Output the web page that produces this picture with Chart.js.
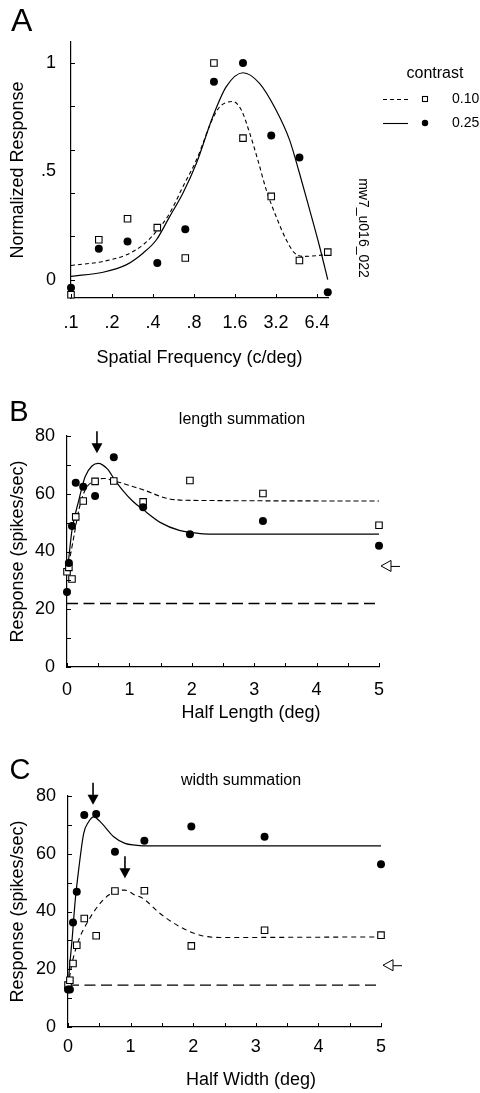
<!DOCTYPE html>
<html>
<head>
<meta charset="utf-8">
<script src="https://cdn.jsdelivr.net/npm/chart.js@4.4.0/dist/chart.umd.min.js"></script>
<style>
  html, body { margin: 0; padding: 0; background: #fff; }
  #wrap { position: relative; width: 480px; height: 1093px; }
  canvas { position: absolute; left: 0; }
</style>
</head>
<body>
<div id="wrap">
  <canvas id="chartA" width="480" height="375" style="top:0;width:480px;height:375px"></canvas>
  <canvas id="chartB" width="480" height="360" style="top:375px;width:480px;height:360px"></canvas>
  <canvas id="chartC" width="480" height="358" style="top:735px;width:480px;height:358px"></canvas>
</div>
<script>
// ---- Panel A: spatial frequency tuning ----
const contrastLevels = ['0.10', '0.25'];
const freqX = [0.1, 0.16, 0.26, 0.43, 0.69, 1.12, 1.83, 2.95, 4.75, 7.67];
const freqResp010 = [-0.07, 0.184, 0.281, 0.24, 0.10, 1.0, 0.653, 0.384, 0.088, 0.127];
const freqResp025 = [-0.038, 0.142, 0.176, 0.077, 0.232, 0.914, 1.0, 0.665, 0.564, -0.058];
const freqFit010X = [0.1, 0.172, 0.256, 0.339, 0.424, 0.531, 0.664, 0.834, 1.1, 1.24, 1.545, 1.78, 2.05, 2.35, 2.71, 3.2, 3.8, 4.37, 5.02, 7.67];
const freqFit010Y = [0.065, 0.084, 0.115, 0.161, 0.223, 0.307, 0.43, 0.553, 0.745, 0.799, 0.822, 0.783, 0.676, 0.553, 0.415, 0.292, 0.184, 0.123, 0.107, 0.115];
const freqFit025X = [0.1, 0.172, 0.256, 0.339, 0.424, 0.531, 0.664, 0.834, 1.1, 1.38, 1.83, 2.42, 3.2, 4.02, 4.75, 5.64, 6.67, 7.67];
const freqFit025Y = [0.015, 0.034, 0.069, 0.123, 0.184, 0.292, 0.4, 0.538, 0.753, 0.891, 0.955, 0.906, 0.783, 0.645, 0.492, 0.323, 0.154, 0.0];
const freqTicks = [0.1, 0.2, 0.4, 0.8, 1.6, 3.2, 6.4];
const freqTickLabels = ['.1', '.2', '.4', '.8', '1.6', '3.2', '6.4'];
const normTicks = [0, 0.5, 1];
const normTickLabels = ['0', '.5', '1'];
const normMarks = [0, 0.2, 0.4, 0.6, 0.8, 1];

// ---- Panel B: length summation ----
const halfX = [0, 0.03, 0.08, 0.14, 0.26, 0.45, 0.75, 1.22, 1.97, 3.14, 5];
const lenResp010 = [33, 34.5, 30.5, 52, 57.5, 64.3, 64.4, 57.2, 64.6, 60.1, 49.1];
const lenResp025 = [26, 36, 48.8, 63.8, 62.4, 59.2, 72.6, 55.3, 46, 50.6, 42];
const lenFit010X = [0, 0.03, 0.1, 0.19, 0.29, 0.43, 0.59, 0.77, 1.04, 1.23, 1.6, 2.0, 5];
const lenFit010Y = [33, 36, 44, 54.4, 61.3, 64.4, 65.3, 64.4, 62.6, 61.3, 58.4, 57.7, 57.5];
const lenFit025X = [0, 0.04, 0.08, 0.19, 0.29, 0.4, 0.5, 0.65, 0.76, 0.9, 1.05, 1.22, 1.5, 1.8, 2.1, 2.5, 5];
const lenFit025Y = [32, 40, 47.4, 57.8, 65.9, 69.6, 70.5, 68.5, 65, 61, 57.5, 54.5, 50, 47.3, 46.3, 46, 46];
const lenBaseline = 22;
const lenPeakArrows = [[0.48, 74]];
const lenOpenArrow = 35;

// ---- Panel C: width summation ----
const widResp010 = [14.5, 16.2, 22, 28.3, 37.6, 31.6, 47.1, 47.2, 28.1, 33.5, 31.8];
const widResp025 = [13, 13, 36.2, 46.8, 73.4, 73.8, 60.7, 64.5, 69.4, 65.9, 56.4];
const widFit010X = [0, 0.064, 0.17, 0.33, 0.49, 0.65, 0.78, 0.91, 1.07, 1.2, 1.47, 1.79, 2.11, 2.43, 5];
const widFit010Y = [13.9, 22, 30, 37, 42.2, 45.7, 47.2, 47.4, 45.7, 44.5, 39.3, 34.7, 31.8, 31, 31.2];
const widFit025X = [0, 0.03, 0.064, 0.116, 0.17, 0.25, 0.33, 0.41, 0.54, 0.73, 0.91, 1.07, 1.3, 5];
const widFit025Y = [13.9, 22, 30, 44, 54.4, 67, 71.1, 72.8, 70.5, 65.9, 63.6, 63, 62.7, 62.7];
const widBaseline = 14.5;
const widPeakArrows = [[0.4, 77], [0.91, 51.5]];
const widOpenArrow = 21.4;

const FONT = '"Liberation Sans", Arial, Helvetica, sans-serif';
Chart.defaults.font.family = FONT;
Chart.defaults.color = '#000';

const xy = (xs, ys) => xs.map((x, i) => ({ x, y: ys[i] }));

function pointSet(data, filled) {
  return {
    data, showLine: false, clip: false,
    pointStyle: filled ? 'circle' : 'rect',
    pointRadius: filled ? 4 : 4.6,
    pointBackgroundColor: filled ? '#000' : '#fff',
    pointBorderColor: '#000',
    pointBorderWidth: filled ? 0 : 1.1
  };
}
function lineSet(data, dash, width) {
  return {
    data, showLine: true, clip: false, pointRadius: 0,
    borderColor: '#000', borderWidth: width || 1.1, borderDash: dash,
    cubicInterpolationMode: 'monotone', fill: false
  };
}

// inward tick marks, labels, arrows and legend
const extras = {
  id: 'extras',
  afterDraw(chart, args, o) {
    const { ctx, chartArea } = chart;
    const xs = chart.scales.x, ys = chart.scales.y;
    ctx.save();
    ctx.strokeStyle = '#000';
    ctx.fillStyle = '#000';
    ctx.lineWidth = 1;
    ctx.beginPath();
    (o.xMarks || xs.ticks.map(t => t.value)).forEach(v => {
      const p = Math.round(xs.getPixelForValue(v)) + 0.5;
      ctx.moveTo(p, chartArea.bottom);
      ctx.lineTo(p, chartArea.bottom - 4);
    });
    (o.yMarks || ys.ticks.map(t => t.value)).forEach(v => {
      const p = Math.round(ys.getPixelForValue(v)) + 0.5;
      ctx.moveTo(chartArea.left, p);
      ctx.lineTo(chartArea.left + 4, p);
    });
    ctx.stroke();

    (o.texts || []).forEach(t => {
      ctx.save();
      ctx.font = t.size + 'px ' + FONT;
      ctx.textAlign = t.align || 'center';
      ctx.textBaseline = 'middle';
      ctx.translate(t.x, t.y);
      if (t.rot) ctx.rotate(t.rot);
      ctx.fillText(t.text, 0, 0);
      ctx.restore();
    });

    // filled arrows pointing down at the peaks
    (o.downArrows || []).forEach(([vx, vy]) => {
      const px = xs.getPixelForValue(vx), py = ys.getPixelForValue(vy);
      ctx.lineWidth = 1.6;
      ctx.beginPath();
      ctx.moveTo(px, py - 22);
      ctx.lineTo(px, py - 8);
      ctx.stroke();
      ctx.beginPath();
      ctx.moveTo(px - 5.5, py - 10);
      ctx.lineTo(px + 5.5, py - 10);
      ctx.lineTo(px, py);
      ctx.closePath();
      ctx.fill();
    });

    // open arrow at the right (spontaneous level marker)
    if (o.openArrow != null) {
      const tx = xs.getPixelForValue(xs.max) + 2, py = ys.getPixelForValue(o.openArrow);
      ctx.lineWidth = 1;
      ctx.beginPath();
      ctx.moveTo(tx, py);
      ctx.lineTo(tx + 10, py - 5.5);
      ctx.lineTo(tx + 10, py + 5.5);
      ctx.closePath();
      ctx.fillStyle = '#fff';
      ctx.fill();
      ctx.stroke();
      ctx.beginPath();
      ctx.moveTo(tx + 10, py + 0.5);
      ctx.lineTo(tx + 19, py + 0.5);
      ctx.stroke();
      ctx.fillStyle = '#000';
    }

    // legend for panel A
    if (o.legend) {
      ctx.font = '16px ' + FONT;
      ctx.textAlign = 'center';
      ctx.textBaseline = 'middle';
      ctx.fillText('contrast', 435, 74);
      const rows = [{ dash: [4, 3], filled: false, y: 99 }, { dash: [], filled: true, y: 123 }];
      rows.forEach((r, i) => {
        ctx.lineWidth = 1.1;
        ctx.setLineDash(r.dash);
        ctx.beginPath();
        ctx.moveTo(383, r.y + 0.5);
        ctx.lineTo(408, r.y + 0.5);
        ctx.stroke();
        ctx.setLineDash([]);
        if (r.filled) {
          ctx.beginPath();
          ctx.arc(425, r.y, 3.2, 0, Math.PI * 2);
          ctx.fill();
        } else {
          ctx.fillStyle = '#fff';
          ctx.fillRect(422, r.y - 3, 6, 6);
          ctx.fillStyle = '#000';
          ctx.strokeRect(422.5, r.y - 2.5, 5, 5);
        }
        ctx.font = '14px ' + FONT;
        ctx.textAlign = 'left';
        ctx.fillText(contrastLevels[i], 452, r.y);
      });
    }
    ctx.restore();
  }
};

function linearAxes(opts) {
  return {
    x: {
      type: 'linear', min: 0, max: 5,
      grid: { display: false, drawTicks: false },
      border: { display: true, color: '#000', width: 1.2 },
      afterFit: s => { s.height = opts.xHeight; },
      ticks: {
        stepSize: 0.5, autoSkip: false, maxRotation: 0, padding: opts.xPad,
        font: { size: 18 }, color: '#000',
        callback: v => Number.isInteger(v) ? String(v) : ''
      }
    },
    y: {
      type: 'linear', min: 0, max: 80,
      grid: { display: false, drawTicks: false },
      border: { display: true, color: '#000', width: 1.2 },
      afterFit: s => { s.width = opts.yWidth; },
      ticks: {
        stepSize: 10, autoSkip: false, padding: 12,
        font: { size: 18 }, color: '#000',
        callback: v => v % 20 === 0 ? String(v) : ''
      },
      title: {
        display: true, text: 'Response (spikes/sec)', color: '#000',
        font: { size: 18 }, padding: { top: 7, bottom: 0 }
      }
    }
  };
}

new Chart(document.getElementById('chartA'), {
  type: 'scatter',
  data: {
    datasets: [
      pointSet(xy(freqX, freqResp025), true),
      pointSet(xy(freqX, freqResp010), false),
      lineSet(xy(freqFit025X, freqFit025Y), [], 1.2),
      lineSet(xy(freqFit010X, freqFit010Y), [4, 3], 1.1)
    ]
  },
  options: {
    responsive: false, animation: false, events: [],
    layout: { padding: { left: 0, right: 152, top: 42, bottom: 0 } },
    plugins: {
      legend: { display: false }, tooltip: { enabled: false },
      extras: {
        yMarks: normMarks,
        legend: true,
        texts: [
          { text: 'A', x: 21.7, y: 21.7, size: 32 },
          { text: 'mw7_u016_022', x: 363, y: 228, size: 14, rot: Math.PI / 2 }
        ]
      }
    },
    scales: {
      x: {
        type: 'logarithmic', min: 0.1, max: 7.7,
        grid: { display: false, drawTicks: false },
        border: { display: true, color: '#000', width: 1.2 },
        afterBuildTicks: s => { s.ticks = freqTicks.map(v => ({ value: v })); },
        afterFit: s => { s.height = 77; },
        ticks: {
          autoSkip: false, maxRotation: 0, padding: 14, font: { size: 18 }, color: '#000',
          callback: (v, i) => freqTickLabels[i]
        },
        title: {
          display: true, text: 'Spatial Frequency (c/deg)', color: '#000',
          font: { size: 18 }, padding: { top: 0, bottom: 6 }
        }
      },
      y: {
        type: 'linear', min: -0.085, max: 1.097,
        grid: { display: false, drawTicks: false },
        border: { display: true, color: '#000', width: 1.2 },
        afterBuildTicks: s => { s.ticks = normTicks.map(v => ({ value: v })); },
        afterFit: s => { s.width = 71; },
        ticks: {
          autoSkip: false, padding: 15, font: { size: 18 }, color: '#000',
          callback: (v, i) => normTickLabels[i]
        },
        title: {
          display: true, text: 'Normalized Response', color: '#000',
          font: { size: 18 }, padding: { top: 7, bottom: 0 }
        }
      }
    }
  },
  plugins: [extras]
});

new Chart(document.getElementById('chartB'), {
  type: 'scatter',
  data: {
    datasets: [
      pointSet(xy(halfX, lenResp025), true),
      pointSet(xy(halfX, lenResp010), false),
      lineSet(xy(lenFit025X, lenFit025Y), [], 1.2),
      lineSet(xy(lenFit010X, lenFit010Y), [5, 3], 1.1),
      lineSet([{ x: 0, y: lenBaseline }, { x: 5, y: lenBaseline }], [11, 5.5], 1.3)
    ]
  },
  options: {
    responsive: false, animation: false, events: [],
    layout: { padding: { left: 0, right: 101, top: 61, bottom: 0 } },
    plugins: {
      legend: { display: false }, tooltip: { enabled: false },
      extras: {
        downArrows: lenPeakArrows,
        openArrow: lenOpenArrow,
        texts: [
          { text: 'B', x: 19, y: 38, size: 29 },
          { text: 'length summation', x: 242, y: 45, size: 16 },
          { text: 'Half Length (deg)', x: 251, y: 338, size: 18 }
        ]
      }
    },
    scales: linearAxes({ xHeight: 68, yWidth: 67, xPad: 12 })
  },
  plugins: [extras]
});

new Chart(document.getElementById('chartC'), {
  type: 'scatter',
  data: {
    datasets: [
      pointSet(xy(halfX, widResp025), true),
      pointSet(xy(halfX, widResp010), false),
      lineSet(xy(widFit025X, widFit025Y), [], 1.2),
      lineSet(xy(widFit010X, widFit010Y), [5, 4], 1.1),
      lineSet([{ x: 0, y: widBaseline }, { x: 5, y: widBaseline }], [11, 5.5], 1.3)
    ]
  },
  options: {
    responsive: false, animation: false, events: [],
    layout: { padding: { left: 0, right: 99, top: 61, bottom: 0 } },
    plugins: {
      legend: { display: false }, tooltip: { enabled: false },
      extras: {
        downArrows: widPeakArrows,
        openArrow: widOpenArrow,
        texts: [
          { text: 'C', x: 20, y: 36, size: 29 },
          { text: 'width summation', x: 241, y: 45.7, size: 16 },
          { text: 'Half Width (deg)', x: 251, y: 345, size: 18 }
        ]
      }
    },
    scales: linearAxes({ xHeight: 66, yWidth: 68, xPad: 9 })
  },
  plugins: [extras]
});
</script>
</body>
</html>
